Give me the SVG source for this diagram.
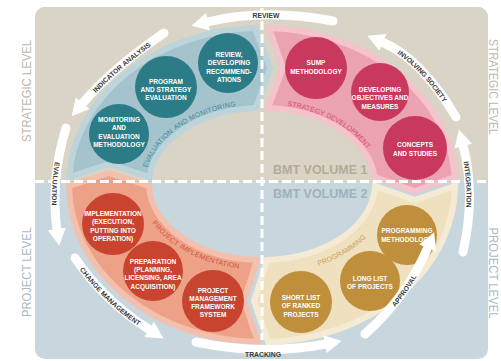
<svg xmlns="http://www.w3.org/2000/svg" width="501" height="361" viewBox="0 0 501 361">
<defs>
<style>
.ct{fill:#fff;font-family:"Liberation Sans",Arial,sans-serif;font-weight:bold;font-size:6.5px;text-anchor:middle}
.al{fill:#3a3a3a;font-family:"Liberation Sans",Arial,sans-serif;font-weight:bold;font-size:6.8px}
.bl{font-family:"Liberation Sans",Arial,sans-serif;font-size:7px}
.lv{font-family:"Liberation Sans",Arial,sans-serif;font-size:13px;text-anchor:middle}
.bmt{font-family:"Liberation Sans",Arial,sans-serif;font-weight:bold;font-size:12.5px}
.arr{fill:none;stroke:#fff;stroke-width:9;stroke-linecap:round}
.dash{stroke:#fff;stroke-width:3;stroke-dasharray:9 4;fill:none}
.band{stroke-width:6;stroke-linejoin:miter}
</style>
<marker id="ah" markerUnits="userSpaceOnUse" markerWidth="20" markerHeight="20" viewBox="0 -10 18 20" refX="1" refY="0" orient="auto"><path d="M0,-9 L17,0 L0,9 Z" fill="#fff"/></marker>
<path id="pReview" d="M333,21 Q265,8 207,22"/>
<path id="pInd" d="M164,33 Q111,69.5 82,104"/>
<path id="pIndT" d="M82,104 Q111,69.5 164,33"/>
<path id="pEval" d="M66,128 Q50,180 57,230"/>
<path id="pChg" d="M75,258 Q105,302 150,330"/>
<path id="pTrk" d="M196,342 Q262,356 326,344"/>
<path id="pApp" d="M365,334 Q407,297 428,247"/>
<path id="pInt" d="M463,252 Q476,195 463,145"/>
<path id="pIntT" d="M463,145 Q476,195 463,252"/>
<path id="pInv" d="M456,117 Q421,58.5 382,42"/>
<path id="pInvT" d="M382,42 Q421,58.5 456,117"/>
<path id="tTeal" d="M142.5,191.8 A120,83 0 0 1 271.6,101.3"/>
<path id="tPink" d="M237.1,102.8 A120,83 0 0 1 381.9,181.1"/>
<path id="tOr" d="M142.2,188.3 A120,83 0 0 0 289,264.9"/>
<path id="tTan" d="M251.9,271.7 A126,88 0 0 0 387.4,175.7"/>
</defs>

<g id="background">
<rect x="35" y="7" width="453" height="352" rx="10" fill="#c8d6dd"/>
<path d="M35,181.5 V17 A10,10 0 0 1 45,7 H478 A10,10 0 0 1 488,17 V181.5 Z" fill="#d9d4c5"/>
</g>

<g id="level-labels">
<text class="lv" fill="#bcb7aa" transform="translate(31,91) rotate(-90)" textLength="102" lengthAdjust="spacingAndGlyphs">STRATEGIC LEVEL</text>
<text class="lv" fill="#aab9c3" transform="translate(31,272) rotate(-90)" textLength="90" lengthAdjust="spacingAndGlyphs">PROJECT LEVEL</text>
<text class="lv" fill="#bcb7aa" transform="translate(489,87) rotate(90)" textLength="96" lengthAdjust="spacingAndGlyphs">STRATEGIC LEVEL</text>
<text class="lv" fill="#aab9c3" transform="translate(489,273) rotate(90)" textLength="91" lengthAdjust="spacingAndGlyphs">PROJECT LEVEL</text>
</g>

<g id="bands">
<path id="band-evaluation" class="band" fill="#a5c3cc" stroke="#bcd4da" d="M69.25,177 A193,157 0 0 1 255,28.1 L270,68 L256,108.1 A113,76 0 0 0 149.5,177 L109.4,164 Z"/>
<path id="band-strategy" class="band" fill="#eba2b1" stroke="#f4c3cb" d="M269,28.1 A193,157 0 0 1 454.75,177 L414.6,191 L374.5,177 A113,76 0 0 0 268,108.1 L283,68 Z"/>
<path id="band-programming" class="band" fill="#efe0bf" stroke="#f5ebd5" d="M455,186 A193,157 0 0 1 268,341.9 L254,301 L267,259.9 A113,76 0 0 0 375,186 L415,200 Z"/>
<path id="band-implementation" class="band" fill="#eda287" stroke="#f3c0ad" d="M258,342 A193,157 0 0 1 69,186 L109,173 L149.1,186 A113,76 0 0 0 257,259.9 L244,301 Z"/>
</g>

<g id="dividers">
<path class="dash" d="M35,181.5 H488"/>
<path class="dash" d="M262,8 V340"/>
</g>

<g id="volume-labels">
<text class="bmt" fill="#b4ab99" x="273" y="174">BMT VOLUME 1</text>
<text class="bmt" fill="#a0b1bc" x="273" y="198">BMT VOLUME 2</text>
</g>

<g id="band-labels">
<text class="bl" fill="#3f8d9a" letter-spacing="0.35" dominant-baseline="central"><textPath href="#tTeal" startOffset="48.7" text-anchor="middle">EVALUATION</textPath></text>
<text class="bl" fill="#3f8d9a" letter-spacing="0.35" dominant-baseline="central"><textPath href="#tTeal" startOffset="82.9" text-anchor="middle">AND</textPath></text>
<text class="bl" fill="#3f8d9a" letter-spacing="0.35" dominant-baseline="central"><textPath href="#tTeal" startOffset="117.5" text-anchor="middle">MONITORING</textPath></text>
<text class="bl" fill="#d64c6d" letter-spacing="0.15" dominant-baseline="central"><textPath href="#tPink" startOffset="70.1" text-anchor="middle">STRATEGY</textPath></text>
<text class="bl" fill="#d64c6d" letter-spacing="0.15" dominant-baseline="central"><textPath href="#tPink" startOffset="118.9" text-anchor="middle">DEVELOPMENT</textPath></text>
<text class="bl" fill="#d0533b" letter-spacing="0.1" dominant-baseline="central"><textPath href="#tOr" startOffset="52" text-anchor="middle">PROJECT</textPath></text>
<text class="bl" fill="#d0533b" letter-spacing="0.1" dominant-baseline="central"><textPath href="#tOr" startOffset="102.6" text-anchor="middle">IMPLEMENTATION</textPath></text>
<text class="bl" fill="#c9a058" dominant-baseline="central"><textPath href="#tTan" startOffset="50%" text-anchor="middle">PROGRAMMING</textPath></text>
</g>

<g id="node-review">
<circle cx="228" cy="63" r="30" fill="#2c7c88"/>
<text class="ct"><tspan x="229" y="56.5">REVIEW,</tspan><tspan x="229" y="65">DEVELOPING</tspan><tspan x="229" y="73.5">RECOMMEND-</tspan><tspan x="229" y="82">ATIONS</tspan></text>
</g>
<g id="node-program-evaluation">
<circle cx="166" cy="87" r="31" fill="#2c7c88"/>
<text class="ct"><tspan x="166" y="83.5">PROGRAM</tspan><tspan x="166" y="91.7">AND STRATEGY</tspan><tspan x="166" y="100">EVALUATION</tspan></text>
</g>
<g id="node-monitoring">
<circle cx="119" cy="134" r="30" fill="#2c7c88"/>
<text class="ct"><tspan x="119" y="121.5">MONITORING</tspan><tspan x="119" y="130">AND</tspan><tspan x="119" y="138.5">EVALUATION</tspan><tspan x="119" y="147">METHODOLOGY</tspan></text>
</g>

<g id="node-sump">
<circle cx="316" cy="68" r="31" fill="#c8395d"/>
<text class="ct"><tspan x="316" y="65">SUMP</tspan><tspan x="316" y="74">METHODOLOGY</tspan></text>
</g>
<g id="node-objectives">
<circle cx="380" cy="92" r="29" fill="#c8395d"/>
<text class="ct"><tspan x="380" y="91.5">DEVELOPING</tspan><tspan x="380" y="100">OBJECTIVES AND</tspan><tspan x="380" y="108.5">MEASURES</tspan></text>
</g>
<g id="node-concepts">
<circle cx="415" cy="148" r="32" fill="#c8395d"/>
<text class="ct"><tspan x="415" y="146.5">CONCEPTS</tspan><tspan x="415" y="155.5">AND STUDIES</tspan></text>
</g>

<g id="node-implementation">
<circle cx="113" cy="224" r="31" fill="#c8442f"/>
<text class="ct"><tspan x="113" y="215.5">IMPLEMENTATION</tspan><tspan x="113" y="224">(EXECUTION,</tspan><tspan x="113" y="232.5">PUTTING INTO</tspan><tspan x="113" y="241">OPERATION)</tspan></text>
</g>
<g id="node-preparation">
<circle cx="153" cy="271" r="30" fill="#c8442f"/>
<text class="ct"><tspan x="153" y="263.5">PREPARATION</tspan><tspan x="153" y="271.8">(PLANNING,</tspan><tspan x="153" y="280.2">LICENSING, AREA</tspan><tspan x="153" y="288.5">ACQUISITION)</tspan></text>
</g>
<g id="node-pm-framework">
<circle cx="213" cy="301" r="31" fill="#c8442f"/>
<text class="ct"><tspan x="213" y="292.5">PROJECT</tspan><tspan x="213" y="300.5">MANAGEMENT</tspan><tspan x="213" y="308.5">FRAMEWORK</tspan><tspan x="213" y="317">SYSTEM</tspan></text>
</g>

<g id="node-programming-methodology">
<circle cx="407" cy="235" r="30" fill="#c08f3c"/>
<text class="ct"><tspan x="407" y="232.5">PROGRAMMING</tspan><tspan x="407" y="241.5">METHODOLOGY</tspan></text>
</g>
<g id="node-long-list">
<circle cx="370" cy="281" r="30" fill="#c08f3c"/>
<text class="ct"><tspan x="370" y="280.5">LONG LIST</tspan><tspan x="370" y="288.5">OF PROJECTS</tspan></text>
</g>
<g id="node-short-list">
<circle cx="301" cy="302" r="31" fill="#c08f3c"/>
<text class="ct"><tspan x="301" y="299.5">SHORT LIST</tspan><tspan x="301" y="308">OF RANKED</tspan><tspan x="301" y="316.5">PROJECTS</tspan></text>
</g>

<g id="connectors">
<use href="#pReview" class="arr" marker-end="url(#ah)"/>
<use href="#pInd" class="arr" marker-end="url(#ah)"/>
<use href="#pEval" class="arr" marker-end="url(#ah)"/>
<use href="#pChg" class="arr" marker-end="url(#ah)"/>
<use href="#pTrk" class="arr" marker-end="url(#ah)"/>
<use href="#pApp" class="arr" marker-end="url(#ah)"/>
<use href="#pInt" class="arr" marker-end="url(#ah)"/>
<use href="#pInv" class="arr" marker-end="url(#ah)"/>
<text class="al" x="266" y="17.5" text-anchor="middle">REVIEW</text>
<text class="al" dominant-baseline="central"><textPath href="#pIndT" startOffset="36.3" text-anchor="middle">INDICATOR</textPath></text>
<text class="al" dominant-baseline="central"><textPath href="#pIndT" startOffset="74.2" text-anchor="middle">ANALYSIS</textPath></text>
<text class="al" dominant-baseline="central"><textPath href="#pEval" startOffset="55%" text-anchor="middle">EVALUATION</textPath></text>
<text class="al" dominant-baseline="central"><textPath href="#pChg" startOffset="26.7" text-anchor="middle">CHANGE</textPath></text>
<text class="al" dominant-baseline="central"><textPath href="#pChg" startOffset="68.1" text-anchor="middle">MANAGEMENT</textPath></text>
<text class="al" x="263" y="357" text-anchor="middle">TRACKING</text>
<text class="al" dominant-baseline="central"><textPath href="#pApp" startOffset="54%" text-anchor="middle">APPROVAL</textPath></text>
<text class="al" dominant-baseline="central"><textPath href="#pIntT" startOffset="37%" text-anchor="middle">INTEGRATION</textPath></text>
<text class="al" dominant-baseline="central"><textPath href="#pInvT" startOffset="37.7" text-anchor="middle">INVOLVING</textPath></text>
<text class="al" dominant-baseline="central"><textPath href="#pInvT" startOffset="73.2" text-anchor="middle">SOCIETY</textPath></text>
</g>
</svg>
